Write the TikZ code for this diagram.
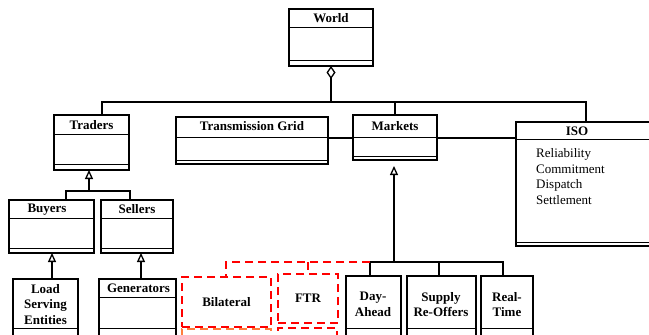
\documentclass[tikz,border=0pt]{standalone}
\usepackage{fontspec}
\setmainfont{Liberation Serif}
\usetikzlibrary{positioning,arrows.meta,shapes.geometric}

\definecolor{lineorange}{RGB}{255,125,60}

% class frame with its two compartment lines
\newcommand{\umlclass}[7]{%
  \node[classbox,minimum width=#4pt,minimum height=#5pt] (#1) at (#2,#3) {};
  \draw[compline] ([yshift=-#6pt]#1.north west) -- ([yshift=-#6pt]#1.north east);
  \draw[compline] ([yshift=#7pt]#1.south west) -- ([yshift=#7pt]#1.south east);
}

\begin{document}
\begin{tikzpicture}[
  x=1pt,y=-1pt,
  font=\fontsize{13}{15.5}\selectfont,
  classbox/.style={draw,line width=1.3pt,anchor=north west,inner sep=0pt,outer sep=0pt},
  compline/.style={line width=1pt},
  classname/.style={font=\fontsize{13}{15.5}\selectfont\bfseries,align=center,inner sep=0pt},
  link/.style={line width=1.5pt},
  inherit/.style={link,-{Triangle[open,length=9pt,width=8pt,line width=1.3pt]}},
  aggregate/.style={link,{Diamond[open,length=13pt,width=9pt,line width=1.3pt]}-},
  reddash/.style={draw=red,line width=1.7pt,dash pattern=on 8pt off 5pt},
  marketbox/.style={reddash,anchor=north west,inner sep=0pt,outer sep=0pt,font=\fontsize{13}{15.5}\selectfont\bfseries},
]
\useasboundingbox (0,0) rectangle (649,335);

% classes
\umlclass{world}{289}{9}{84}{57}{18}{6}
\umlclass{traders}{54}{115}{75}{55}{19}{6}
\umlclass{grid}{176}{117}{152}{47}{20.5}{4}
\umlclass{markets}{353}{115}{84}{45}{22}{4}
\umlclass{iso}{516}{122}{140}{124}{17}{3.5}
\umlclass{buyers}{9}{200}{85}{53}{18}{5}
\umlclass{sellers}{101}{200}{72}{53}{18}{5}
\umlclass{lse}{13}{279}{65}{66}{0}{17}
\umlclass{generators}{99}{279}{77}{66}{18}{17}
\umlclass{dayahead}{346}{276}{55}{69}{0}{17}
\umlclass{supply}{407}{276}{69}{69}{0}{17}
\umlclass{realtime}{481}{276}{52}{69}{0}{17}

\node[classname] (world-t) at (331,18) {World};
\node[classname] (traders-t) at (91.5,125) {Traders};
\node[classname] (grid-t) at (252,126) {Transmission Grid};
\node[classname] (markets-t) at (395,126) {Markets};
\node[classname] (iso-t) at (577,131) {ISO};
\node[anchor=north west,align=left,inner sep=0pt] (iso-a) at (536,148.5)
  {Reliability\\Commitment\\Dispatch\\Settlement};
\node[classname] (buyers-t) at (47,209.5) {Buyers};
\node[classname] (sellers-t) at (137,209.5) {Sellers};
\node[classname] (lse-t) at (45.5,304.5) {Load\\Serving\\Entities};
\node[classname] (generators-t) at (138.5,288.5) {Generators};
\node[classname] (dayahead-t) at (373,304.5) {Day-\\Ahead};
\node[classname] (supply-t) at (441,304.5) {Supply\\Re-Offers};
\node[classname] (realtime-t) at (507,304.5) {Real-\\Time};

% proposed markets
\node[marketbox,minimum width=89pt,minimum height=50pt] (bilateral) at (182,277) {Bilateral};
\node[marketbox,draw=lineorange,minimum width=89pt,minimum height=30pt] (bilateral2) at (182,329) {};
\node[marketbox,minimum width=60pt,minimum height=49pt] (ftr) at (278,274) {FTR};
\node[marketbox,minimum width=59pt,minimum height=30pt] (ftr2) at (278,328) {};

% world aggregation
\coordinate (bus-w) at (102,102);
\coordinate (bus-e) at (586,102);
\coordinate (grid-link) at (353,138);
\draw[link] (traders.north -| bus-w) -- (bus-w) -- (bus-e) -- (iso.north);
\draw[aggregate] (world.south) -- (world.south |- bus-w);
\draw[link] (markets.north) -- (markets.north |- bus-w);
\draw[link] (grid-link -| grid.east) -- (grid-link -| markets.west);
\draw[link] (grid-link -| markets.east) -- (grid-link -| iso.west);

% traders
\coordinate (tbus) at (89,191);
\coordinate (tbus-w) at (66,191);
\coordinate (tbus-e) at (130,191);
\coordinate (lse-up) at (52,279);
\coordinate (gen-up) at (141,279);
\draw[inherit] (tbus) -- (tbus |- traders.south);
\draw[link] (buyers.north -| tbus-w) -- (tbus-w) -- (tbus-e) -- (sellers.north -| tbus-e);
\draw[inherit] (lse-up |- lse.north) -- (lse-up |- buyers.south);
\draw[inherit] (gen-up |- generators.north) -- (gen-up |- sellers.south);

% markets
\coordinate (mbus) at (394,262);
\coordinate (mbus-w) at (370,262);
\coordinate (mbus-m) at (439,262);
\coordinate (mbus-e) at (503,262);
\coordinate (rbus-w) at (226,262);
\draw[inherit,shorten >=6pt] (mbus) -- (mbus |- markets.south);
\draw[link] (dayahead.north -| mbus-w) -- (mbus-w) -- (mbus-e) -- (realtime.north -| mbus-e);
\draw[link] (mbus-m) -- (mbus-m |- supply.north);
\draw[reddash] (mbus-w) -- (rbus-w) -- (rbus-w |- bilateral.north);
\draw[reddash] (ftr.north |- rbus-w) -- (ftr.north);
\end{tikzpicture}
\end{document}
